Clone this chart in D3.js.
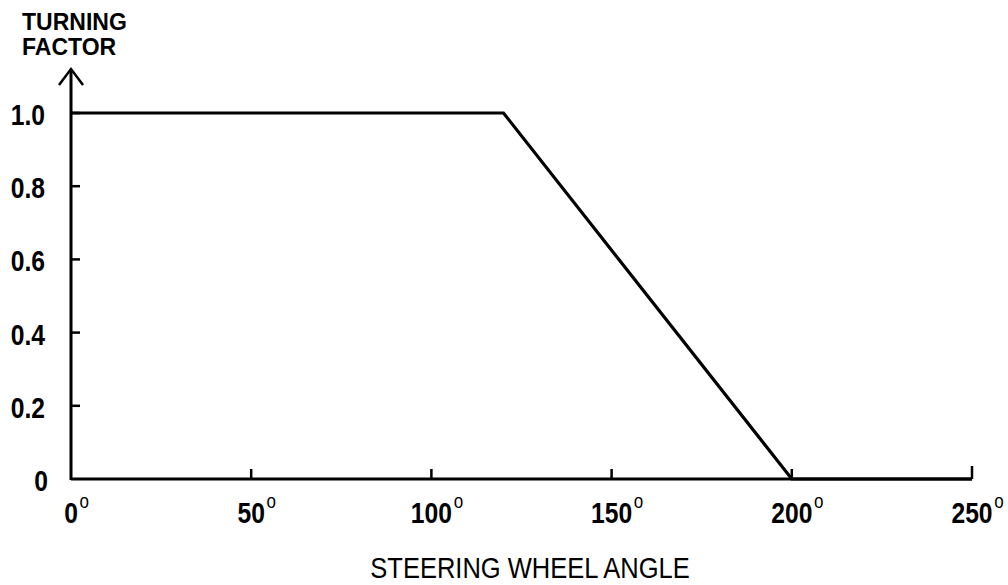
<!DOCTYPE html>
<html><head><meta charset="utf-8">
<script src="https://cdn.jsdelivr.net/npm/d3@7"></script>
<style>
html,body{margin:0;padding:0;background:#fff;}
svg{display:block;}
text{font-family:"Liberation Sans Narrow","Arial Narrow","Liberation Sans",Arial,sans-serif;fill:#000;}
</style></head><body>
<svg id="c" width="1008" height="585"></svg>
<script>
const angles = [0, 120, 200, 250];
const factors = [1.0, 1.0, 0.0, 0.0];
const xTicks = [0, 50, 100, 150, 200, 250];
const yTicks = [0, 0.2, 0.4, 0.6, 0.8, 1.0];
const yTickLabels = ["0", "0.2", "0.4", "0.6", "0.8", "1.0"];
const yTitle = ["TURNING", "FACTOR"];
const xTitle = "STEERING WHEEL ANGLE";

const svg = d3.select("#c");
const x = d3.scaleLinear().domain([0, 250]).range([71, 972]);
const y = d3.scaleLinear().domain([0, 1]).range([479, 113]);
const SX = 0.85;

// axes
const g = svg.append("g").attr("stroke", "#000").attr("stroke-width", 3).attr("fill", "none");
g.append("line").attr("x1", x(0)).attr("x2", x(250)).attr("y1", y(0)).attr("y2", y(0));
g.append("line").attr("x1", x(0)).attr("x2", x(0)).attr("y1", y(0) + 1).attr("y2", 69);
g.append("path").attr("d", `M${x(0)-12},85 L${x(0)},69 L${x(0)+12},85`).attr("stroke-width", 2.5);

g.selectAll(".xt").data(xTicks.slice(1)).enter().append("line")
  .attr("x1", d => x(d)).attr("x2", d => x(d))
  .attr("y1", y(0)).attr("y2", d => d === 250 ? y(0) - 13 : y(0) - 10)
  .attr("stroke-width", 2.5);
g.selectAll(".yt").data(yTicks.slice(1)).enter().append("line")
  .attr("x1", x(0)).attr("x2", x(0) + 9)
  .attr("y1", d => y(d)).attr("y2", d => y(d))
  .attr("stroke-width", 2.5);

const line = d3.line().x((d, i) => x(angles[i])).y(d => y(d));
svg.append("path").datum(factors).attr("d", line)
  .attr("fill", "none").attr("stroke", "#000").attr("stroke-width", 3.2).attr("stroke-linejoin", "miter");

// y tick labels
svg.selectAll(".yl").data(yTicks).enter().append("g")
  .attr("transform", (d, i) => `translate(${i === 0 ? 48 : 45},${y(d) + 12}) scale(${SX},1)`)
  .append("text").attr("text-anchor", "end").attr("font-size", 29).attr("font-weight", "bold")
  .text((d, i) => yTickLabels[i]);

// x tick labels with superscript degree
const xl = svg.selectAll(".xl").data(xTicks).enter().append("g")
  .attr("transform", d => `translate(${x(d)},523) scale(${SX},1)`);
xl.each(function(d) {
  const t = d3.select(this).append("text").attr("font-size", 29).attr("font-weight", "bold");
  const num = t.append("tspan").text(d);
  const w = num.node().getComputedTextLength();
  t.attr("x", -w / 2);
  t.append("tspan").attr("dx", 2).attr("dy", -15).attr("font-size", 20).attr("font-weight", "normal").text("o");
});

// titles
svg.selectAll(".yt2").data(yTitle).enter().append("text")
  .attr("x", 22).attr("y", (d, i) => 30 + i * 25)
  .attr("font-size", 23).attr("font-weight", "bold").text(d => d);

svg.append("g").attr("transform", `translate(530,578) scale(0.88,1)`)
  .append("text").attr("text-anchor", "middle").attr("font-size", 29).text(xTitle);
</script>
</body></html>
